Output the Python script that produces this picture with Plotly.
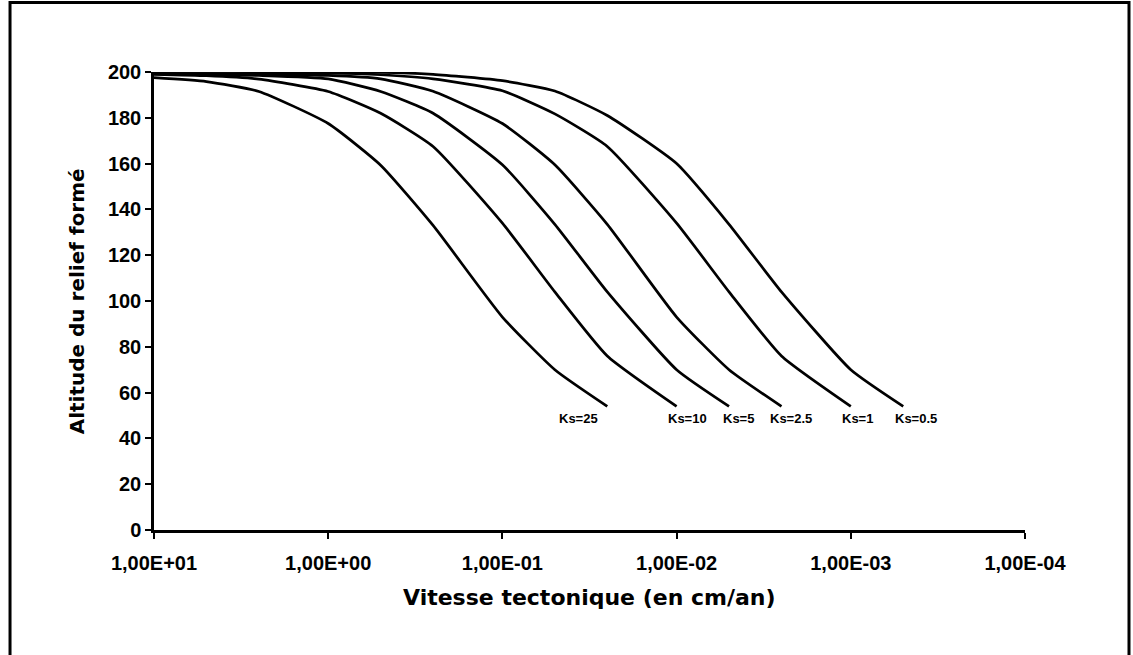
import math
import plotly.graph_objects as go

# Tectonic velocity (cm/an) at which each relief altitude was computed
vitesse = [10, 5, 2.5, 1, 0.5, 0.25, 0.1, 0.05, 0.025, 0.01, 0.005, 0.0025, 0.001, 0.0005]

# Altitude of the relief formed, one list per Ks value (each stops at its last computed velocity)
alt_ks25 = [197.5, 195.8, 191.5, 177.5, 159.3, 133.0, 93.0, 70.0, 54.0]
alt_ks10 = [199.0, 198.4, 196.9, 191.5, 182.0, 167.5, 134.0, 104.0, 76.0, 54.0]
alt_ks5 = [199.2, 199.0, 198.5, 197.0, 191.5, 182.0, 159.5, 133.5, 104.0, 70.0, 54.0]
alt_ks2_5 = [199.3, 199.2, 199.0, 198.5, 197.0, 191.6, 177.5, 159.5, 133.5, 93.0, 70.0, 54.0]
alt_ks1 = [199.3, 199.3, 199.4, 199.5, 198.8, 197.0, 191.8, 181.7, 167.5, 134.0, 104.0, 76.0, 54.0]
alt_ks0_5 = [199.3, 199.3, 199.4, 199.6, 199.8, 199.0, 196.2, 191.7, 181.0, 160.0, 133.5, 104.0, 70.0, 54.0]

series_names = ["Ks=25", "Ks=10", "Ks=5", "Ks=2.5", "Ks=1", "Ks=0.5"]
series_values = [alt_ks25, alt_ks10, alt_ks5, alt_ks2_5, alt_ks1, alt_ks0_5]

# Axis ticks
x_tick_vals = [10, 1, 0.1, 0.01, 0.001, 0.0001]
x_tick_text = ["1,00E+01", "1,00E+00", "1,00E-01", "1,00E-02", "1,00E-03", "1,00E-04"]
y_tick_vals = [0, 20, 40, 60, 80, 100, 120, 140, 160, 180, 200]

# Curve-end labels: velocity where each label sits and its altitude
label_vitesse = [0.0368, 0.0087, 0.0044, 0.0022, 0.00091, 0.00042]
label_alt = 48.5

FONT = "Liberation Sans, Arial, sans-serif"
TITLE_FONT = "DejaVu Sans, Liberation Sans, sans-serif"

fig = go.Figure()
for name, vals in zip(series_names, series_values):
    fig.add_trace(go.Scatter(
        x=vitesse[:len(vals)], y=vals, mode="lines", name=name,
        line=dict(color="black", width=2.7, shape="spline", smoothing=0.5),
        showlegend=False, hoverinfo="skip",
    ))

for name, v in zip(series_names, label_vitesse):
    fig.add_annotation(
        x=math.log10(v), y=label_alt, xref="x", yref="y",
        text=name, showarrow=False,
        font=dict(family=FONT, size=13, color="black", weight="bold"),
        xanchor="center", yanchor="middle",
    )

# Axis titles
fig.add_annotation(
    x=0.5, y=-0.148, xref="paper", yref="paper",
    text="Vitesse tectonique (en cm/an)", showarrow=False,
    font=dict(family=TITLE_FONT, size=22, color="black", weight="bold"),
    xanchor="center", yanchor="middle",
)
fig.add_annotation(
    x=-0.088, y=0.5, xref="paper", yref="paper",
    text="Altitude du relief formé", showarrow=False, textangle=-90,
    font=dict(family=TITLE_FONT, size=20, color="black", weight="bold"),
    xanchor="center", yanchor="middle",
)

# Frame around the whole figure
fig.add_shape(
    type="rect", xref="paper", yref="paper",
    x0=-0.1653, x1=1.1194, y0=-0.285, y1=1.152,
    line=dict(color="black", width=3), fillcolor="rgba(0,0,0,0)",
)

fig.update_layout(
    width=1133, height=655,
    margin=dict(l=154, r=108, t=72, b=125),
    paper_bgcolor="white", plot_bgcolor="white",
    font=dict(family=FONT, color="black"),
)
fig.update_xaxes(
    type="log", range=[1, -4],
    tickvals=x_tick_vals, ticktext=x_tick_text,
    tickfont=dict(family=FONT, size=20, color="black", weight="bold"),
    ticklabelstandoff=7,
    showline=True, linecolor="black", linewidth=2.5,
    ticks="outside", ticklen=6, tickwidth=2, tickcolor="black",
    showgrid=False, zeroline=False,
)
fig.update_yaxes(
    range=[0, 200], tickvals=y_tick_vals,
    tickfont=dict(family=FONT, size=20, color="black", weight="bold"),
    showline=True, linecolor="black", linewidth=2.5,
    ticks="outside", ticklen=6, tickwidth=2, tickcolor="black",
    showgrid=False, zeroline=False,
)

fig.write_html("out.html")
